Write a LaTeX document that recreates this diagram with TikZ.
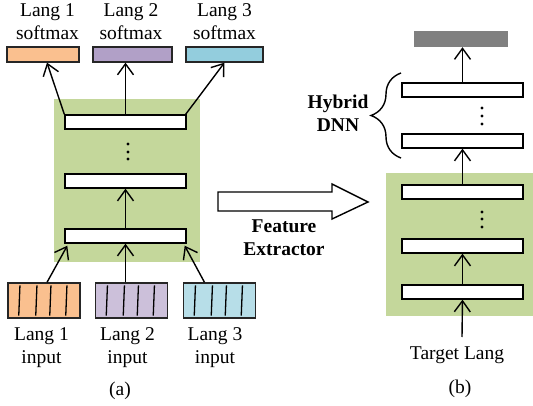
\documentclass[tikz,border=0pt]{standalone}
\usepackage{fontspec}
\setmainfont{Liberation Serif}
\usetikzlibrary{arrows.meta,decorations.pathreplacing}

\definecolor{panelgreen}{RGB}{196,215,155}
\definecolor{langorange}{RGB}{250,192,143}
\definecolor{langpurple}{RGB}{204,192,218}
\definecolor{softpurple}{RGB}{177,160,199}
\definecolor{langblue}{RGB}{183,222,232}
\definecolor{softblue}{RGB}{147,205,221}

\tikzset{
  panel/.style={rectangle,fill=panelgreen,inner sep=0,outer sep=0},
  bar/.style={rectangle,draw=black,fill=white,line width=1.4pt,minimum width=121,minimum height=14,inner sep=0},
  softbox/.style={rectangle,draw=black!85,line width=1.3pt,minimum height=15,inner sep=0},
  inbox/.style={rectangle,draw=black!85,line width=1.3pt,minimum width=72,minimum height=35,inner sep=0},
  arr/.style={-{Straight Barb[length=11pt,width=16pt,line width=1.4pt]},line width=1.4pt},
  lbl/.style={align=center,inner sep=0}
}

\begin{document}
\begin{tikzpicture}[x=1pt,y=-1pt,font=\fontsize{19.5}{23}\selectfont]
        \useasboundingbox (0,0) rectangle (533,406);

        % (a) shared layers
        \node[panel,minimum width=146,minimum height=163] (fa) at (127,180.5) {};
        \node[bar] (lt) at (125.5,122) {};
        \node[bar] (lm) at (125.5,181) {};
        \node[bar] (lb) at (125.5,236) {};
        \foreach \d in {144,152,159} \fill (128,\d) circle (1.7);

        % softmax outputs
        \node[softbox,fill=langorange,minimum width=72] (s1) at (43,54.5) {};
        \node[softbox,fill=softpurple,minimum width=79] (s2) at (132.5,54.5) {};
        \node[softbox,fill=softblue,minimum width=77] (s3) at (224.5,54.5) {};
        \node[lbl] (s1l) at (47.5,21.5) {Lang 1\\softmax};
        \node[lbl] (s2l) at (131,21.5) {Lang 2\\softmax};
        \node[lbl] (s3l) at (224.5,21.5) {Lang 3\\softmax};

        % inputs
        \node[inbox,fill=langorange] (in1) at (44,300.5) {};
        \node[inbox,fill=langpurple] (in2) at (131.5,300.5) {};
        \node[inbox,fill=langblue] (in3) at (219.5,300.5) {};
        \foreach \b in {in1,in2,in3}
          \foreach \s in {12,29,43,59}
            \draw[line width=1.3pt] ([shift={(\s+0.6,3)}]\b.north west) -- ([shift={(\s-0.6,-3)}]\b.south west);
        \node[lbl] (in1l) at (41.5,347.5) {Lang 1\\input};
        \node[lbl] (in2l) at (127.5,347.5) {Lang 2\\input};
        \node[lbl] (in3l) at (215,347.5) {Lang 3\\input};

        \draw[arr] ([xshift=3]in1.north) -- ([xshift=3,yshift=-2]lb.south west);
        \draw[arr] (lb.south |- in2.north) -- (lb.south);
        \draw[arr] ([xshift=-15]in3.north) -- ([xshift=-2,yshift=-2]lb.south east);
        \draw[arr] (lb.north) -- (lm.south);
        \draw[arr] (lt.north west) -- ([xshift=4]s1.south);
        \draw[arr] (lt.north) -- (lt.north |- s2.south);
        \draw[arr] ([xshift=-1]lt.north east) -- (s3.south);

        \node[anchor=base] (capa) at (120,395) {(a)};

        % transfer arrow
        \coordinate (ftail) at (218,192);
        \draw[line width=1.4pt] (ftail) -- (332,192) -- (332,184) -- (368,202) -- (332,219) -- (332,211) -- (218,211) -- cycle;
        \node[lbl,font=\fontsize{19.5}{23}\selectfont\bfseries] (fext) at (284,238) {Feature\\Extractor};

        % (b) transferred layers
        \node[panel,minimum width=147,minimum height=143] (fb) at (459.5,244.5) {};
        \node[bar] (rb1) at (462.5,192) {};
        \node[bar] (rb2) at (462.5,246) {};
        \node[bar] (rb3) at (462.5,292) {};
        \foreach \d in {212,219,227} \fill (482,\d) circle (1.7);

        % hybrid layers
        \node[bar] (hb1) at (462.5,141) {};
        \node[bar] (hb2) at (462.5,90) {};
        \foreach \d in {108,116,124} \fill (482,\d) circle (1.7);
        \node[rectangle,fill=black!50,minimum width=94,minimum height=16,inner sep=0] (out) at (461,39) {};

        \coordinate (tin) at (462,337);
        \draw[arr] (tin) -- (rb3.south);
        \draw[arr] (rb3.north) -- (rb2.south);
        \draw[arr] (rb1.north) -- (hb1.south);
        \draw[arr] (hb2.north) -- (hb2.north |- out.south);

        \draw[line width=1.4pt,decorate,decoration={brace,amplitude=30pt}] (401,158) -- (401,73);
        \node[lbl,font=\fontsize{19.5}{23}\selectfont\bfseries] (hyb) at (338,113) {Hybrid\\DNN};

        \node[anchor=base] (tgt) at (457,359) {Target Lang};
        \node[anchor=base] (capb) at (460,393) {(b)};

    \end{tikzpicture}
\end{document}
